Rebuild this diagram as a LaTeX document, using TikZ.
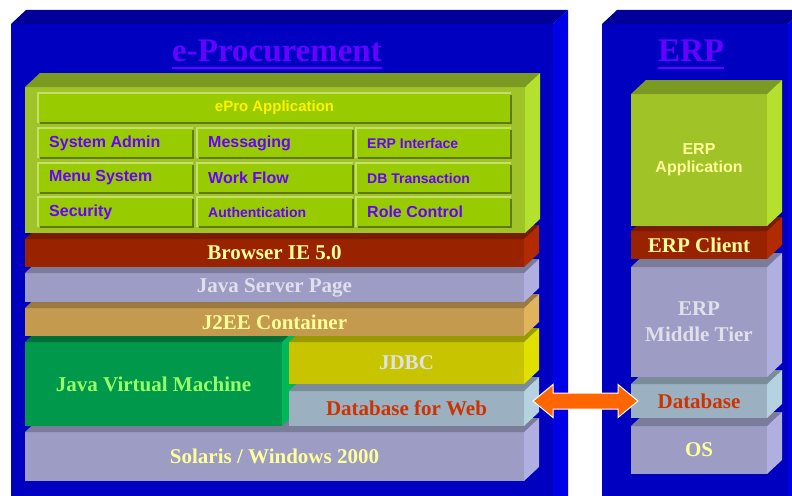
\documentclass[tikz,border=0pt]{standalone}
\usepackage{fontspec}
\setmainfont{Liberation Serif}
\setsansfont{Liberation Sans}
\usetikzlibrary{calc}

\definecolor{boxF}{HTML}{0000C0}
\definecolor{boxT}{HTML}{000099}
\definecolor{boxS}{HTML}{0000E6}
\definecolor{appF}{HTML}{A0C428}
\definecolor{appT}{HTML}{7B9A22}
\definecolor{appS}{HTML}{B4E12E}
\definecolor{cellfill}{HTML}{99CC00}
\definecolor{cellhi}{HTML}{C5E06A}
\definecolor{celllo}{HTML}{5E7A00}
\definecolor{brwF}{HTML}{992200}
\definecolor{brwT}{HTML}{771C00}
\definecolor{brwS}{HTML}{B22B00}
\definecolor{lavF}{HTML}{9C9CC5}
\definecolor{lavT}{HTML}{7B7B9A}
\definecolor{lavS}{HTML}{B0B0E0}
\definecolor{tanF}{HTML}{C49A4E}
\definecolor{tanT}{HTML}{9A7A40}
\definecolor{tanS}{HTML}{E0B45A}
\definecolor{jvmF}{HTML}{00994C}
\definecolor{jvmT}{HTML}{007038}
\definecolor{jvmS}{HTML}{00B85A}
\definecolor{ylwF}{HTML}{C8C400}
\definecolor{ylwT}{HTML}{999900}
\definecolor{ylwS}{HTML}{E0E000}
\definecolor{dbF}{HTML}{9BB1C2}
\definecolor{dbT}{HTML}{7A8C99}
\definecolor{dbS}{HTML}{B4D2E0}
\definecolor{purp}{HTML}{6600FF}
\definecolor{paleylw}{HTML}{FFFF99}
\definecolor{palegry}{HTML}{E0E0EA}
\definecolor{palegrn}{HTML}{99FF66}
\definecolor{rust}{HTML}{CC3300}
\definecolor{arrowc}{HTML}{FF6600}

% slab: name, x, y, width, height, colour prefix
\newcommand{\slab}[6]{%
  \node[face, fill=#6F, minimum width=#4pt, minimum height=#5pt, anchor=north west] (#1) at (#2,#3) {};
  \fill[#6T] (#1.north west) -- ++(15,-14) -- ($(#1.north east)+(15,-14)$) -- (#1.north east) -- cycle;
  \fill[#6S] (#1.north east) -- ++(15,-14) -- ($(#1.south east)+(15,-14)$) -- (#1.south east) -- cycle;
}
% appcell: name, x, y, width, text, extra style
\newcommand{\appcell}[6]{%
  \node[cellbox, minimum width=#4pt, anchor=north west] (#1) at (#2,#3) {};
  \draw[hiedge] (#1.south west) -- (#1.north west) -- (#1.north east);
  \draw[loedge] ([xshift=2pt]#1.south west) -- (#1.south east) -- ([yshift=-2pt]#1.north east);
  \node[celltext, #6, anchor=west] (#1t) at ([xshift=11pt]#1.west) {#5};
}

\begin{document}
\begin{tikzpicture}[x=1pt,y=-1pt,
  face/.style={inner sep=0pt, outer sep=0pt},
  cellbox/.style={fill=cellfill, inner sep=0pt, outer sep=0pt, minimum height=30pt},
  hiedge/.style={draw=cellhi, line width=1.5pt},
  loedge/.style={draw=celllo, line width=1.5pt},
  celltext/.style={font=\sffamily\bfseries\fontsize{16}{18}\selectfont, text=purp, inner sep=0pt},
  small/.style={font=\sffamily\bfseries\fontsize{14}{16}\selectfont},
  layertext/.style={font=\bfseries\fontsize{21}{26}\selectfont, align=center, inner sep=0pt},
  sanstext/.style={font=\sffamily\bfseries\fontsize{16}{18}\selectfont, align=center, inner sep=0pt},
  titletext/.style={font=\bfseries\fontsize{33}{37}\selectfont, text=purp, inner sep=0pt},
]
\useasboundingbox (0,0) rectangle (792,495);
\clip (0,0) rectangle (792,495);

% the two cases
\slab{eproc}{11}{24}{542}{520}{box}
\slab{erp}{602}{24}{186}{520}{box}

\node[titletext, anchor=base] (eptitle) at (277,62) {e-Procurement};
\draw[purp, line width=2pt] ([yshift=-6pt]eptitle.base west) -- ([yshift=-6pt]eptitle.base east);
\node[titletext, anchor=base] (erptitle) at (691,62) {ERP};
\draw[purp, line width=2pt] ([yshift=-6pt]erptitle.base west) -- ([yshift=-6pt]erptitle.base east);

% e-Procurement stack, bottom up
\slab{solaris}{25}{432}{499}{49}{lav}
\slab{jvm}{25}{342}{257}{84}{jvm}
\slab{dbweb}{289}{391}{235}{35}{db}
\slab{jdbc}{289}{342}{235}{42}{ylw}
\slab{j2ee}{25}{308}{499}{28}{tan}
\slab{jsp}{25}{273}{499}{29}{lav}
\slab{browser}{25}{239}{499}{28}{brw}
\slab{epro}{25}{87}{500}{146}{app}

\node[layertext, text=paleylw] (tsolaris) at (solaris) {Solaris / Windows 2000};
\node[layertext, text=palegrn] (tjvm) at (jvm) {Java Virtual Machine};
\node[layertext, text=rust] (tdbweb) at (dbweb) {Database for Web};
\node[layertext, text=palegry] (tjdbc) at (jdbc) {JDBC};
\node[layertext, text=paleylw] (tj2ee) at (j2ee) {J2EE Container};
\node[layertext, text=palegry] (tjsp) at (jsp) {Java Server Page};
\node[layertext, text=paleylw] (tbrowser) at (browser) {Browser IE 5.0};

% ePro application cells
\node[cellbox, minimum width=473pt, anchor=north west] (eproapp) at (38,93) {};
\draw[hiedge] (eproapp.south west) -- (eproapp.north west) -- (eproapp.north east);
\draw[loedge] ([xshift=2pt]eproapp.south west) -- (eproapp.south east) -- ([yshift=-2pt]eproapp.north east);
\node[celltext, font=\sffamily\bfseries\fontsize{15}{17}\selectfont, text=yellow] (eproappt) at (eproapp) {ePro Application};

\appcell{sysadmin}{38}{128}{155}{System Admin}{}
\appcell{msg}{197}{128}{156}{Messaging}{}
\appcell{erpif}{356}{128}{155}{ERP Interface}{small}
\appcell{menu}{38}{163}{155}{Menu System}{}
\appcell{flow}{197}{163}{156}{Work Flow}{}
\appcell{dbtx}{356}{163}{155}{DB Transaction}{small}
\appcell{security}{38}{197}{155}{Security}{}
\appcell{auth}{197}{197}{156}{Authentication}{small}
\appcell{role}{356}{197}{155}{Role Control}{}

% ERP stack, bottom up
\slab{os}{631}{426}{136}{48}{lav}
\slab{erpdb}{631}{384}{136}{34}{db}
\slab{middle}{631}{267}{136}{110}{lav}
\slab{client}{631}{231}{136}{28}{brw}
\slab{erpapp}{631}{94}{136}{132}{app}

\node[layertext, text=paleylw] (tos) at (os) {OS};
\node[layertext, text=rust] (terpdb) at (erpdb) {Database};
\node[layertext, text=palegry] (tmiddle) at (middle) {ERP\\Middle Tier};
\node[layertext, text=paleylw] (tclient) at (client) {ERP Client};
\node[sanstext, text=paleylw] (terpapp) at (erpapp) {ERP\\Application};

% link between the two databases
\coordinate (al) at ($(dbweb.east |- erpdb.west)+(9,0)$);
\coordinate (ar) at ($(erpdb.west)+(7,0)$);
\filldraw[fill=arrowc, draw=white, line width=1pt, line join=miter]
  (al) -- ++(20,-16.5) -- ++(0,8.5) -- ($(ar)+(-20,-8)$) -- ++(0,-8.5) -- (ar)
  -- ++(-20,16.5) -- ++(0,-8.5) -- ($(al)+(20,8)$) -- ++(0,8.5) -- cycle;
\end{tikzpicture}
\end{document}
